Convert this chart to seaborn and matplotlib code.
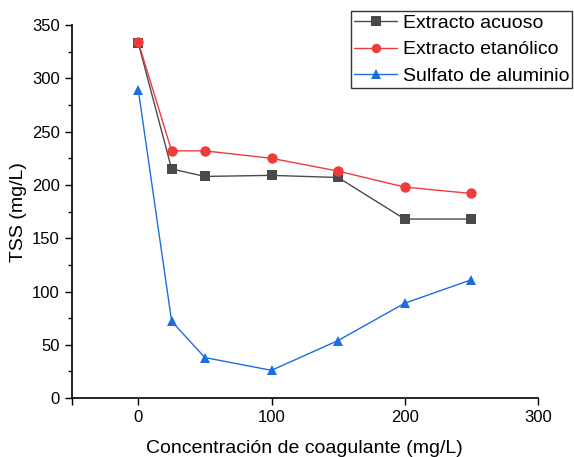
import pandas as pd
import matplotlib.pyplot as plt
import seaborn as sns

conc = [0, 25, 50, 100, 150, 200, 250]
acuoso = [333, 215, 208, 209, 207, 168, 168]
etanolico = [334, 232, 232, 225, 213, 198, 192]
sulfato = [289, 72, 38, 26, 54, 89, 111]
series = ["Extracto acuoso", "Extracto etanólico", "Sulfato de aluminio"]

df = pd.DataFrame({
    "conc": conc * 3,
    "tss": acuoso + etanolico + sulfato,
    "serie": [s for s in series for _ in conc],
})

sns.set_style("ticks")
plt.rcParams['font.family'] = ['Liberation Sans', 'DejaVu Sans']
plt.rcParams['text.color'] = 'black'
plt.rcParams['axes.labelcolor'] = 'black'

fig = plt.figure(figsize=(5.74, 4.57), dpi=100)
ax = fig.add_axes([0.125, 0.129, 0.812, 0.816])

colores = {"Extracto acuoso": "#4a4a4a", "Extracto etanólico": "#ef3b3b", "Sulfato de aluminio": "#1c6ee0"}
sns.lineplot(data=df, x="conc", y="tss", hue="serie", style="serie",
             markers={"Extracto acuoso": "s", "Extracto etanólico": "o", "Sulfato de aluminio": "^"},
             dashes=False, palette=colores, markersize=7.5, linewidth=1,
             markeredgewidth=0, ax=ax)

ax.set_xlim(-50, 300)
ax.set_ylim(0, 350)
ax.set_xticks([-50, 0, 100, 200, 300])
ax.set_xticklabels(["", "0", "100", "200", "300"])
ax.set_yticks(range(0, 351, 50))
ax.set_yticks(range(25, 350, 50), minor=True)
ax.tick_params(axis="both", which="major", labelsize=12, length=5, width=1,
               color="black", labelcolor="black")
ax.tick_params(axis="y", which="minor", length=3, width=1, color="black")
sns.despine(ax=ax)
for s in ["left", "bottom"]:
    ax.spines[s].set_color("black")
    ax.spines[s].set_linewidth(1.2)

ax.set_xlabel("Concentración de coagulante (mg/L)", fontsize=14, labelpad=11)
ax.set_ylabel("TSS (mg/L)", fontsize=14)

leg = ax.legend(loc="upper right", bbox_to_anchor=(0.997, 0.975), bbox_transform=fig.transFigure,
                fontsize=14, frameon=True, fancybox=False, edgecolor="black",
                handlelength=2.2, borderpad=0.15, labelspacing=0.45, handletextpad=0.3,
                borderaxespad=0, markerscale=0.9)
leg.get_frame().set_linewidth(1.0)

fig.savefig("out.png", dpi=100)
